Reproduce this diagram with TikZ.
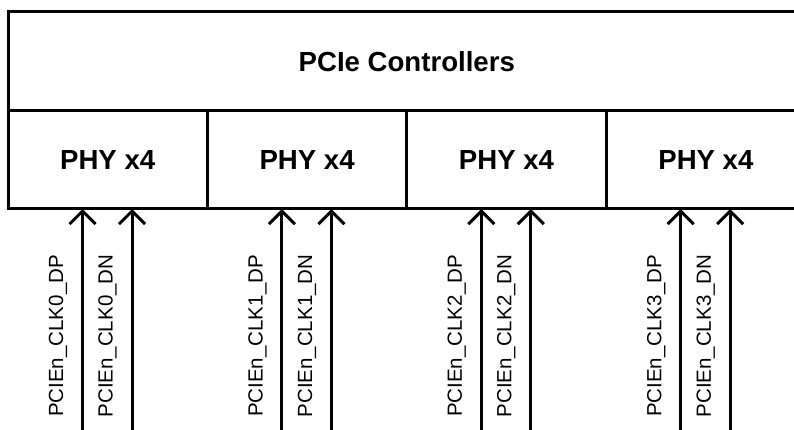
\documentclass[tikz,border=0pt]{standalone}
\usepackage{fontspec}
\setmainfont{Liberation Sans}
\usetikzlibrary{arrows.meta}
\begin{document}
\begin{tikzpicture}[x=1pt,y=-1pt,
  box/.style={draw=black,line width=3pt,rectangle,inner sep=0pt,outer sep=0pt,
    font=\fontsize{27.6}{33}\selectfont\bfseries},
  phybox/.style={box,minimum width=199.4pt,minimum height=98pt},
  ctrlbox/.style={box,minimum width=797.6pt,minimum height=99pt},
  sig/.style={line width=3pt,-{Straight Barb[length=13pt,width=26pt,line width=3pt]}},
  lbl/.style={rotate=90,inner sep=0pt,font=\fontsize{20.5}{24}\selectfont}]
\useasboundingbox (0,0) rectangle (794,430);
\clip (0,0) rectangle (794,430);
\fill[white] (0,0) rectangle (794,430);
\node[ctrlbox] (ctrl) at (406.8,61.5) {PCIe Controllers};
\foreach \k in {0,...,3} {
  \pgfmathsetmacro\cx{8+199.4*(\k+0.5)}
  \pgfmathsetmacro\xa{8+199.4*\k+74.5}
  \pgfmathsetmacro\xb{8+199.4*\k+124}
  \node[phybox] (phy\k) at (\cx,160) {PHY x4};
  \coordinate (dp\k) at (\xa,434);
  \coordinate (dn\k) at (\xb,434);
  \draw[sig] (dp\k) -- (dp\k |- phy\k.south);
  \draw[sig] (dn\k) -- (dn\k |- phy\k.south);
  \node[lbl] (ldp\k) at (\xa-24.5,336) {PCIEn\_CLK\k\_DP};
  \node[lbl] (ldn\k) at (\xb-24.5,336) {PCIEn\_CLK\k\_DN};
}
\end{tikzpicture}
\end{document}
